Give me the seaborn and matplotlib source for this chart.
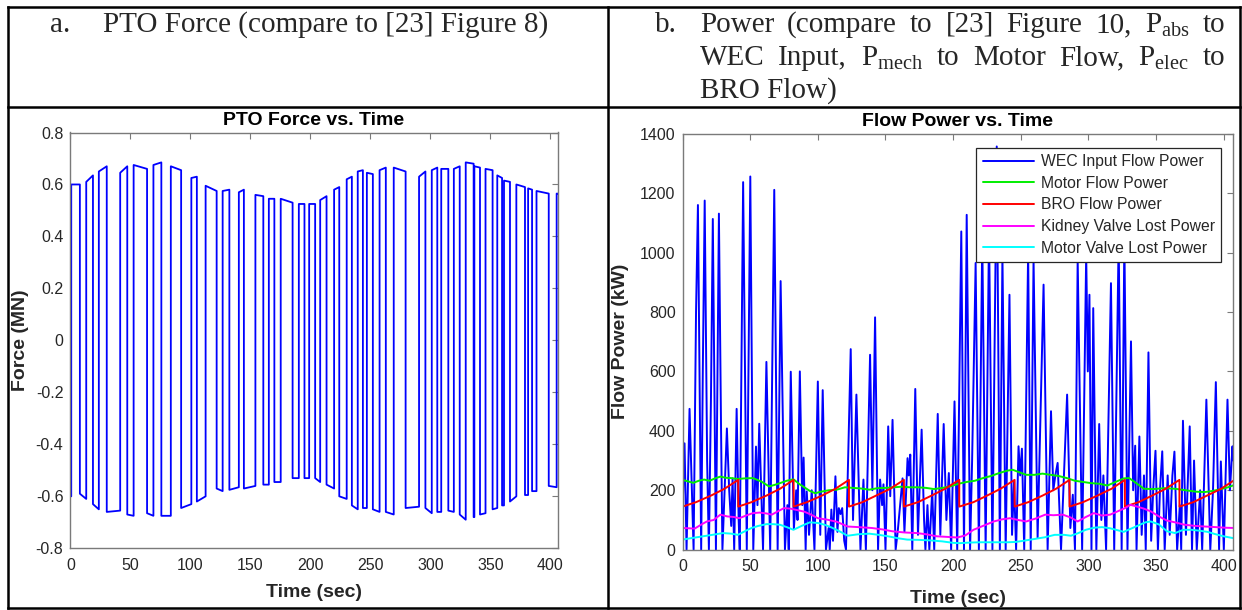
import matplotlib
matplotlib.use('Agg')

import pandas as pd
import matplotlib.pyplot as plt
import seaborn as sns
import numpy as np
from matplotlib.lines import Line2D


# ---- PTO force: switching times (s) and level at start / end of each plateau (MN)
force_switch = [0.0, 0.7, 7.9, 13.2, 18.8, 23.7, 30.3, 41.5, 47.4, 52.7,
                63.9, 69.2, 75.8, 83.7, 92.3, 100.8, 105.4, 112.7, 121.9, 126.9,
                132.5, 140.4, 144.6, 154.2, 160.8, 165.4, 170.0, 175.3, 185.2, 190.4,
                195.1, 199.0, 204.0, 208.2, 213.5, 219.8, 224.1, 230.3, 234.6, 239.5,
                243.8, 247.1, 252.1, 257.7, 262.9, 269.5, 279.4, 290.6, 295.9, 301.2,
                305.8, 309.1, 315.0, 319.6, 324.5, 329.5, 336.1, 336.7, 341.4, 346.0,
                351.9, 355.8, 359.8, 361.4, 366.4, 371.7, 378.9, 381.5, 384.8, 388.5,
                398.7, 405.3, 406.0]
force_start = [-0.60, 0.60, -0.59, 0.61, -0.63, 0.65, -0.66, 0.645, -0.67, 0.675,
               -0.665, 0.675, -0.675, 0.67, -0.645, 0.625, -0.62, 0.595, -0.57, 0.575,
               -0.575, 0.57, -0.57, 0.56, -0.555, 0.545, -0.545, 0.545, -0.53, 0.525,
               -0.53, 0.525, -0.53, 0.54, -0.555, 0.58, -0.60, 0.62, -0.635, 0.65,
               -0.645, 0.645, -0.65, 0.655, -0.66, 0.665, -0.645, 0.63, -0.645, 0.655,
               -0.66, 0.66, -0.655, 0.66, -0.67, 0.685, -0.68, 0.67, -0.67, 0.66,
               -0.65, 0.635, -0.635, 0.615, -0.62, 0.60, -0.595, 0.585, -0.58, 0.575,
               -0.56, 0.565]
force_end = [-0.60, 0.60, -0.61, 0.635, -0.65, 0.67, -0.655, 0.67, -0.675, 0.66,
             -0.675, 0.685, -0.675, 0.655, -0.63, 0.63, -0.60, 0.575, -0.58, 0.58,
             -0.565, 0.58, -0.56, 0.555, -0.555, 0.545, -0.545, 0.53, -0.53, 0.525,
             -0.53, 0.525, -0.545, 0.555, -0.57, 0.59, -0.61, 0.63, -0.65, 0.655,
             -0.645, 0.64, -0.66, 0.665, -0.67, 0.65, -0.64, 0.65, -0.665, 0.665,
             -0.66, 0.66, -0.66, 0.67, -0.69, 0.68, -0.68, 0.665, -0.665, 0.655,
             -0.645, 0.625, -0.635, 0.61, -0.60, 0.59, -0.595, 0.58, -0.58, 0.565,
             -0.565, 0.565]

# ---- WEC input flow power (kW), peaks and troughs
wec_t = [0.0, 1.5, 3.0, 5.2, 6.4, 8.2, 10.0, 11.4, 13.8, 15.0,
         16.4, 18.2, 19.5, 21.0, 22.4, 24.7, 26.9, 28.5, 29.5, 31.5,
         32.8, 34.5, 36.0, 37.0, 38.2, 40.0, 41.5, 42.3, 44.8, 47.5,
         50.1, 52.3, 54.3, 55.4, 56.7, 59.5, 62.0, 64.8, 67.8, 70.3,
         72.5, 75.7, 77.5, 78.5, 80.0, 82.3, 84.0, 85.0, 86.7, 88.5,
         89.5, 91.0, 91.8, 93.5, 95.5, 97.5, 100.0, 101.8, 103.6, 106.0,
         108.0, 108.8, 110.0, 111.2, 113.0, 114.5, 115.5, 116.8, 118.0, 119.5,
         120.8, 124.3, 126.0, 128.5, 131.5, 133.7, 135.5, 138.6, 140.3, 142.3,
         144.5, 146.0, 147.5, 148.5, 150.0, 152.0, 153.5, 155.2, 157.5, 159.0,
         162.6, 164.0, 166.3, 167.2, 168.3, 169.8, 172.0, 174.0, 176.7, 178.5,
         179.5, 181.0, 182.4, 184.5, 186.0, 188.6, 190.5, 193.0, 195.0, 196.8,
         198.5, 201.0, 203.0, 206.0, 208.0, 210.0, 212.5, 214.0, 216.6, 219.0,
         221.5, 224.0, 226.5, 229.0, 232.2, 234.5, 236.4, 238.8, 241.6, 243.5,
         245.0, 246.5, 248.3, 249.5, 250.8, 252.5, 255.4, 257.3, 259.4, 262.4,
         266.8, 269.8, 272.3, 274.0, 275.5, 277.2, 279.7, 284.2, 286.6, 288.4,
         290.0, 292.0, 295.3, 298.3, 299.5, 300.7, 302.2, 303.5, 305.8, 307.9,
         309.5, 311.0, 313.0, 316.6, 319.0, 322.3, 324.5, 326.5, 328.8, 331.4,
         333.0, 334.5, 335.5, 337.6, 339.3, 341.0, 342.3, 344.3, 346.3, 347.8,
         349.5, 351.3, 352.8, 354.5, 356.3, 358.5, 360.0, 362.0, 363.5, 365.5,
         367.5, 368.5, 369.8, 372.0, 374.8, 376.5, 378.0, 380.0, 382.5, 384.0,
         387.1, 390.0, 392.0, 394.1, 396.5, 397.8, 400.0, 402.7, 404.5, 406.4,
         407.0]
wec_p = [120, 358, 0, 474, 280, 0, 800, 1160, 0, 600,
         1175, 300, 0, 500, 1113, 0, 1131, 400, 0, 250,
         408, 200, 80, 240, 0, 474, 100, 0, 1237, 0,
         1256, 0, 347, 150, 424, 0, 632, 0, 1211, 0,
         904, 0, 150, 0, 599, 70, 200, 100, 600, 150,
         310, 0, 196, 50, 200, 0, 566, 50, 537, 0,
         73, 0, 135, 30, 247, 60, 140, 120, 140, 30,
         0, 675, 100, 522, 0, 236, 0, 656, 200, 782,
         0, 236, 150, 220, 0, 415, 180, 437, 0, 60,
         240, 60, 308, 250, 320, 0, 541, 50, 404, 100,
         0, 150, 0, 200, 0, 457, 50, 423, 100, 258,
         0, 499, 0, 1071, 0, 1127, 0, 300, 965, 0,
         1050, 0, 1080, 0, 1357, 0, 993, 0, 858, 50,
         230, 0, 348, 250, 340, 0, 1004, 0, 976, 40,
         892, 0, 466, 200, 250, 292, 0, 522, 73, 185,
         0, 976, 0, 993, 600, 858, 0, 813, 0, 423,
         100, 250, 0, 897, 0, 1050, 0, 1050, 0, 701,
         200, 350, 0, 381, 50, 250, 0, 664, 30, 200,
         333, 0, 200, 331, 0, 250, 50, 250, 330, 0,
         150, 0, 434, 50, 415, 0, 300, 0, 200, 0,
         505, 0, 200, 564, 0, 297, 0, 505, 200, 348,
         300]

# ---- Motor flow power (kW)
motor_t = [0, 4, 8, 12, 16, 20, 24, 28, 32, 36, 41, 46, 52, 58, 64, 68, 72, 77, 82, 86,
           90, 94, 98, 102, 108, 114, 120, 126, 132, 138, 144, 150, 156, 162, 168, 174, 180, 186, 192, 198,
           204, 210, 216, 222, 228, 234, 240, 244, 248, 254, 260, 266, 272, 278, 284, 290, 296, 302, 308, 314,
           320, 326, 330, 335, 341, 348, 356, 364, 372, 380, 386, 392, 398, 403, 408]
motor_p = [235, 230, 225, 232, 236, 232, 240, 246, 242, 241, 238, 240, 241, 230, 213, 218, 224, 232, 237, 222,
           210, 198, 190, 195, 200, 202, 210, 208, 206, 202, 207, 208, 210, 212, 210, 210, 208, 204, 208, 213,
           222, 228, 232, 241, 248, 258, 266, 269, 262, 252, 252, 256, 252, 248, 241, 232, 228, 224, 222, 216,
           228, 240, 241, 225, 205, 204, 207, 205, 200, 195, 194, 198, 204, 210, 218]

# ---- BRO flow power (kW), sawtooth
bro_t = [0, 10, 21, 31, 41.2, 41.2, 51, 62, 72, 82.1,
         82.1, 92, 103, 113, 123, 123, 133, 143, 153.5, 163.6,
         163.6, 174, 184, 194, 204.5, 204.5, 215, 225, 235, 245.4,
         245.4, 255.5, 266, 276, 286, 286, 296, 306.5, 317, 326.9,
         326.9, 337, 347, 357, 367.2, 367.2, 377.5, 387.5, 398, 408]
bro_p = [145, 160, 182, 205, 235, 145, 160, 182, 205, 235,
         145, 160, 182, 205, 235, 145, 160, 182, 205, 235,
         145, 160, 182, 205, 235, 145, 160, 182, 205, 235,
         145, 160, 182, 205, 235, 145, 160, 182, 205, 235,
         145, 160, 182, 205, 235, 145, 160, 182, 205, 235]

# ---- Kidney valve lost power (kW)
kidney_t = [0, 5, 9, 14, 18, 23, 28, 33, 38, 42, 47, 52, 57, 62, 66, 70, 75, 80, 84, 90,
            95, 100, 107, 114, 122, 130, 140, 148, 155, 164, 173, 180, 188, 196, 203, 209, 215, 222, 230, 236,
            242, 248, 254, 261, 268, 274, 281, 287, 292, 298, 304, 310, 316, 322, 327, 331, 336, 341, 346, 352,
            358, 364, 371, 379, 386, 394, 401, 408]
kidney_p = [73, 72, 71, 85, 95, 100, 118, 112, 110, 106, 115, 123, 125, 122, 118, 128, 140, 138, 134, 128,
            118, 106, 101, 94, 78, 76, 73, 68, 62, 58, 56, 52, 45, 43, 41, 48, 67, 80, 95, 102,
            106, 100, 95, 105, 118, 116, 118, 108, 95, 110, 123, 115, 118, 130, 140, 151, 145, 138, 129, 112,
            98, 92, 84, 80, 78, 76, 74, 73]

# ---- Motor valve lost power (kW)
mvalve_t = [0, 8, 15, 22, 30, 36, 41, 46, 51, 56, 62, 67, 72, 77, 82, 88, 94, 100, 105, 110,
            116, 122, 130, 138, 145, 152, 160, 166, 175, 184, 192, 200, 205, 212, 220, 230, 240, 246, 252, 260,
            268, 275, 282, 287, 292, 298, 304, 310, 316, 322, 326, 330, 336, 342, 346, 352, 358, 364, 370, 376,
            382, 388, 394, 400, 408]
mvalve_p = [34, 40, 45, 50, 56, 54, 50, 62, 73, 80, 86, 86, 84, 76, 67, 80, 92, 90, 84, 75,
            62, 47, 52, 54, 50, 45, 38, 34, 33, 31, 28, 23, 22, 24, 25, 25, 25, 26, 30, 36,
            42, 50, 50, 47, 55, 67, 74, 76, 72, 65, 60, 68, 80, 92, 95, 85, 62, 56, 67, 67,
            64, 60, 52, 45, 38]

series_names = ['WEC Input Flow Power', 'Motor Flow Power', 'BRO Flow Power',
                'Kidney Valve Lost Power', 'Motor Valve Lost Power']
series_colors = ['#0000ff', '#00ee00', '#ff0000', '#ff00ff', '#00ffff']


sns.set_theme(style='white')
plt.rcParams['font.family'] = ['Liberation Sans', 'DejaVu Sans']
plt.rcParams['axes.unicode_minus'] = False
plt.rcParams['mathtext.fontset'] = 'custom'
plt.rcParams['mathtext.rm'] = 'Liberation Serif'

W, H = 1242, 610
fig = plt.figure(figsize=(W / 100, H / 100), dpi=100)
fig.patch.set_facecolor('white')


def box(x0, y0, x1, y1):
    # pixel box (top-left origin) -> axes rect in figure fraction
    return [x0 / W, 1 - y1 / H, (x1 - x0) / W, (y1 - y0) / H]


ax1 = fig.add_axes(box(70.4, 132.5, 557.5, 548.3))
ax2 = fig.add_axes(box(682.5, 133.7, 1233.3, 549.7))

# ---- left: PTO force as a stepped square wave
ft, fv = [0.0], [0.0]
for i in range(len(force_start)):
    ft += [force_switch[i], force_switch[i + 1]]
    fv += [force_start[i], force_end[i]]
force_df = pd.DataFrame({'t': ft, 'F': fv})
sns.lineplot(data=force_df, x='t', y='F', ax=ax1, color='#0000ff', lw=1.3,
             estimator=None, sort=False)
ax1.set_xlim(0, 406)
ax1.set_ylim(-0.8, 0.8)
ax1.set_xticks(np.arange(0, 401, 50))
ax1.set_yticks(np.arange(-0.8, 0.81, 0.2))
ax1.yaxis.set_major_formatter(matplotlib.ticker.FuncFormatter(
    lambda v, p: '0' if abs(v) < 1e-9 else '%g' % round(v, 1)))

# ---- right: flow powers
frames = [pd.DataFrame({'t': wec_t, 'P': wec_p}),
          pd.DataFrame({'t': motor_t, 'P': motor_p}),
          pd.DataFrame({'t': bro_t, 'P': bro_p}),
          pd.DataFrame({'t': kidney_t, 'P': kidney_p}),
          pd.DataFrame({'t': mvalve_t, 'P': mvalve_p})]
for d, name, c in zip(frames, series_names, series_colors):
    sns.lineplot(data=d, x='t', y='P', ax=ax2, color=c, lw=1.4, label=name,
                 estimator=None, sort=False)
ax2.set_xlim(0, 407)
ax2.set_ylim(0, 1400)
ax2.set_xticks(np.arange(0, 401, 50))
ax2.set_yticks(np.arange(0, 1401, 200))

leg = ax2.legend(loc='upper right', bbox_to_anchor=(1221 / W, 1 - 148 / H),
                 bbox_transform=fig.transFigure, borderaxespad=0, fontsize=11.3,
                 frameon=True, fancybox=False, framealpha=1, edgecolor='#262626',
                 handlelength=3.3, handletextpad=0.4, borderpad=0.4, labelspacing=0.42)
leg.get_frame().set_linewidth(0.9)
leg.set_zorder(10)

# MATLAB-like axes look
for ax, title, ylab, yl, xl in [(ax1, 'PTO Force vs. Time', 'Force (MN)', -0.0932, -0.1164),
                                (ax2, 'Flow Power vs. Time', 'Flow Power (kW)', -0.1044, -0.1274)]:
    for s in ax.spines.values():
        s.set_color('#7a7a7a')
        s.set_linewidth(1.0)
    ax.tick_params(direction='in', top=True, right=True, length=4, width=0.8,
                   color='#7a7a7a', labelcolor='#262626', labelsize=11.5)
    ax.tick_params(axis='x', pad=7)
    ax.tick_params(axis='y', pad=5)
    ax.set_title(title, fontsize=14, fontweight='bold', color='#000000', pad=5.5)
    ax.set_xlabel('Time (sec)', fontsize=14, fontweight='bold', color='#262626')
    ax.set_ylabel(ylab, fontsize=14, fontweight='bold', color='#262626')
    ax.xaxis.label.set_va('baseline')
    ax.yaxis.label.set_va('baseline')
    ax.xaxis.set_label_coords(0.5, xl)
    ax.yaxis.set_label_coords(yl, 0.5)
    ax.grid(False)

# ---- table borders around the two panels
lw_tab = 1.8
for (x0, y0, x1, y1) in [(8, 6.5, 1240, 6.5), (8, 106.5, 1240, 106.5), (8, 607.5, 1240, 607.5),
                         (8, 6.5, 8, 607.5), (608, 6.5, 608, 607.5), (1240, 6.5, 1240, 607.5)]:
    fig.add_artist(Line2D([x0 / W, x1 / W], [1 - y0 / H, 1 - y1 / H], color='black',
                          lw=lw_tab, transform=fig.transFigure, solid_capstyle='projecting'))

# ---- header text (Times-like serif)
serif = 'Liberation Serif'
hfs = 21
fig.text(50 / W, 1 - 32 / H, 'a.', fontsize=hfs, family=serif, va='baseline')
fig.text(103 / W, 1 - 32 / H, 'PTO Force (compare to [23] Figure 8)', fontsize=hfs,
         family=serif, va='baseline')
fig.text(655 / W, 1 - 32 / H, 'b.', fontsize=hfs, family=serif, va='baseline')

renderer = fig.canvas.get_renderer()


def justify(words, x0, x1, ybase):
    texts = [fig.text(0, 1 - ybase / H, w, fontsize=hfs, family=serif, va='baseline') for w in words]
    widths = [t.get_window_extent(renderer).width for t in texts]
    gap = (x1 - x0 - sum(widths)) / (len(words) - 1)
    x = x0
    for t, w in zip(texts, widths):
        t.set_x(x / W)
        x += w + gap


justify(['Power', '(compare', 'to', '[23]', 'Figure', '10,', r'P$_{\mathregular{abs}}$', 'to'],
        700, 1225, 32)
justify(['WEC', 'Input,', r'P$_{\mathregular{mech}}$', 'to', 'Motor', 'Flow,',
         r'P$_{\mathregular{elec}}$', 'to'], 700, 1225, 65)
fig.text(700 / W, 1 - 98 / H, 'BRO Flow)', fontsize=hfs, family=serif, va='baseline')

fig.savefig('out.png', dpi=100)
